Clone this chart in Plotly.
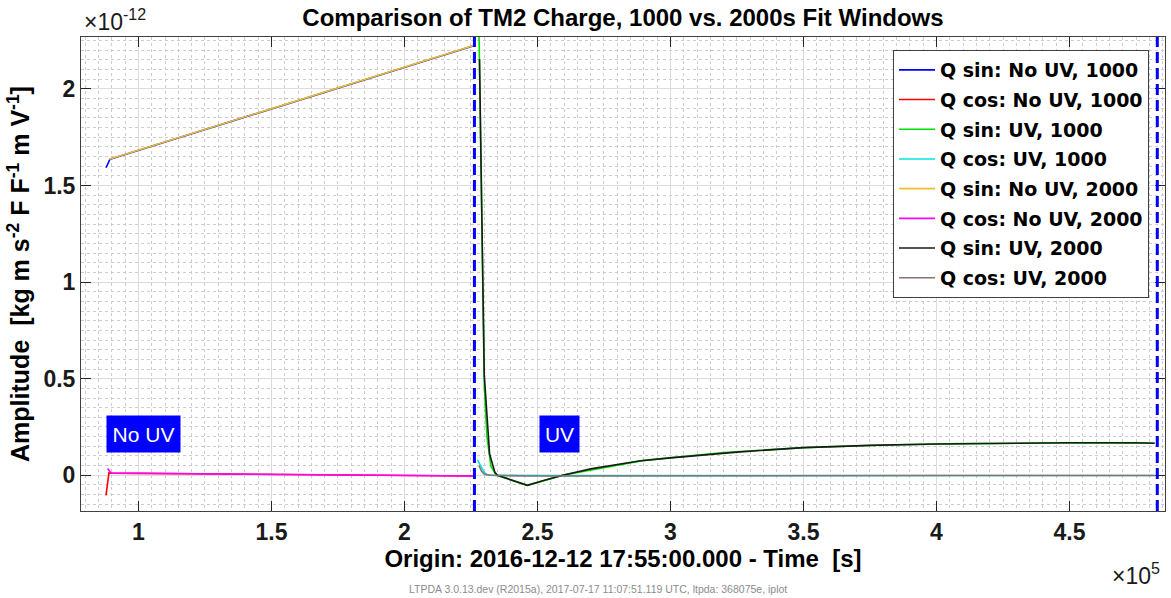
import plotly.graph_objects as go

# x in units of 1e5 s, y in units of 1e-12
x_sin_nouv_1000 = [0.878, 0.893, 1.2, 1.6, 2.0, 2.263]
y_sin_nouv_1000 = [1.592, 1.636, 1.768, 1.940, 2.112, 2.225]

x_cos_nouv_1000 = [0.878, 0.889, 0.90, 1.3, 1.7, 2.1, 2.263]
y_cos_nouv_1000 = [-0.104, 0.012, 0.011, 0.007, 0.003, -0.002, -0.004]

x_sin_uv_1000 = [2.278, 2.29, 2.30, 2.31, 2.325, 2.345, 2.40, 2.462, 2.6, 2.9, 3.2, 3.5, 3.8, 4.1, 4.4, 4.7, 4.82]
y_sin_uv_1000 = [2.5, 1.4, 0.46, 0.2, 0.047, 0.0, -0.025, -0.052, 0.002, 0.077, 0.118, 0.143, 0.157, 0.164, 0.167, 0.168, 0.166]

x_cos_uv_1000 = [2.275, 2.29, 2.30, 2.31, 2.33, 2.6, 3.0, 3.5, 4.0, 4.5, 4.82]
y_cos_uv_1000 = [0.078, 0.04, 0.015, 0.004, 0.0, -0.002, -0.002, -0.001, -0.001, -0.001, -0.001]

x_sin_nouv_2000 = [0.89, 1.0, 1.2, 1.4, 1.6, 1.8, 2.0, 2.2, 2.263]
y_sin_nouv_2000 = [1.636, 1.683, 1.769, 1.855, 1.941, 2.027, 2.113, 2.199, 2.226]

x_cos_nouv_2000 = [0.884, 0.897, 1.2, 1.6, 2.0, 2.263]
y_cos_nouv_2000 = [0.035, 0.011, 0.008, 0.004, -0.001, -0.004]

x_sin_uv_2000 = [2.282, 2.30, 2.32, 2.34, 2.35, 2.462, 2.52, 2.595, 2.7, 2.882, 3.0, 3.25, 3.5, 3.75, 4.0, 4.25, 4.5, 4.75, 4.82]
y_sin_uv_2000 = [2.155, 0.52, 0.11, 0.015, 0.0, -0.052, -0.028, 0.0, 0.033, 0.074, 0.09, 0.12, 0.143, 0.155, 0.162, 0.166, 0.168, 0.168, 0.166]

x_cos_uv_2000 = [2.28, 2.29, 2.30, 2.32, 2.46, 3.0, 3.5, 4.0, 4.5, 4.82]
y_cos_uv_2000 = [0.05, 0.02, 0.005, 0.0, -0.004, -0.002, -0.001, -0.001, -0.001, -0.001]

boundary_x = [2.263, 4.83]

x_ticks = [1, 1.5, 2, 2.5, 3, 3.5, 4, 4.5]
x_tick_text = ["1", "1.5", "2", "2.5", "3", "3.5", "4", "4.5"]
y_ticks = [0, 0.5, 1, 1.5, 2]
y_tick_text = ["0", "0.5", "1", "1.5", "2"]

series = [
    ("Q sin: No UV, 1000", x_sin_nouv_1000, y_sin_nouv_1000, "#0000FF"),
    ("Q cos: No UV, 1000", x_cos_nouv_1000, y_cos_nouv_1000, "#FF0000"),
    ("Q sin: UV, 1000", x_sin_uv_1000, y_sin_uv_1000, "#00E000"),
    ("Q cos: UV, 1000", x_cos_uv_1000, y_cos_uv_1000, "#00E5E5"),
    ("Q sin: No UV, 2000", x_sin_nouv_2000, y_sin_nouv_2000, "#EBC02A"),
    ("Q cos: No UV, 2000", x_cos_nouv_2000, y_cos_nouv_2000, "#FF00FF"),
    ("Q sin: UV, 2000", x_sin_uv_2000, y_sin_uv_2000, "#1a1a1a"),
    ("Q cos: UV, 2000", x_cos_uv_2000, y_cos_uv_2000, "#8c7070"),
]

FONT = "Liberation Sans"
L, R, T, B = 81, 6, 37, 87
W, H = 1171, 598
pw, ph = W - L - R, H - T - B

def px_x(px):
    return (px - L) / pw

def px_y(py_from_top):
    return (H - B - py_from_top) / ph

fig = go.Figure()
for i, (name, xs, ys, col) in enumerate(series):
    fig.add_trace(go.Scatter(x=xs, y=ys, mode="lines", name=name,
                             legendgroup=str(i),
                             line=dict(color=col, width=1.6)))

for bx in boundary_x:
    fig.add_shape(type="line", xref="x", yref="paper", x0=bx, x1=bx, y0=0, y1=1,
                  line=dict(color="#0000FF", width=3, dash="11px,5px"), layer="above")

axis_common = dict(
    showline=True, linecolor="#404040", linewidth=1, mirror="ticks",
    ticks="inside", ticklen=10, tickcolor="#262626", tickwidth=1,
    showgrid=True, gridcolor="#dcdcdc", gridwidth=1, zeroline=False,
    automargin=False,
    tickfont=dict(family=FONT, size=23, color="#1a1a1a", weight="bold"),
)

fig.update_xaxes(range=[0.784, 4.859], tickvals=x_ticks, ticktext=x_tick_text,
                 minor=dict(dtick=0.05, tick0=0, showgrid=True, gridcolor="#cccccc",
                            griddash="dot", ticks=""),
                 title=dict(text="Origin: 2016-12-12 17:55:00.000 - Time  [s]",
                            font=dict(family=FONT, size=24, color="#000000", weight="bold"),
                            standoff=4),
                 **axis_common)
fig.update_yaxes(range=[-0.185, 2.269], tickvals=y_ticks, ticktext=y_tick_text,
                 minor=dict(dtick=0.05, tick0=0, showgrid=True, gridcolor="#cccccc",
                            griddash="dot", ticks=""),
                 title=dict(text="Amplitude  [kg m s<sup>-2</sup> F F<sup>-1</sup> m V<sup>-1</sup>]",
                            font=dict(family=FONT, size=25, color="#000000", weight="bold"),
                            standoff=6),
                 **axis_common)

fig.update_layout(
    width=W, height=H,
    margin=dict(l=L, r=R, t=T, b=B, autoexpand=False),
    paper_bgcolor="white", plot_bgcolor="white",
    title=dict(text="Comparison of TM2 Charge, 1000 vs. 2000s Fit Windows",
               x=(L + W - R) / 2 / W, xanchor="center", y=1 - 18 / H, yanchor="middle",
               font=dict(family=FONT, size=24, color="#000000", weight="bold")),
    legend=dict(x=px_x(893), y=px_y(50), xanchor="left", yanchor="top",
                bgcolor="white", bordercolor="#404040", borderwidth=1,
                font=dict(family="DejaVu Sans", size=19, color="#000000", weight="bold"),
                tracegroupgap=2, itemwidth=36),
    showlegend=True,
    annotations=[
        dict(text="No UV", x=0.878, y=0.2155, xref="x", yref="y", xanchor="left", yanchor="middle",
             showarrow=False, bgcolor="#0000FF", width=73, height=36, borderpad=0,
             font=dict(family=FONT, size=21, color="white")),
        dict(text="UV", x=2.5045, y=0.2155, xref="x", yref="y", xanchor="left", yanchor="middle",
             showarrow=False, bgcolor="#0000FF", width=39, height=36, borderpad=0,
             font=dict(family=FONT, size=21, color="white")),
        dict(text="×10<sup>-12</sup>", x=px_x(82), y=px_y(20), xref="paper", yref="paper",
             showarrow=False, xanchor="left", yanchor="middle",
             font=dict(family=FONT, size=23, color="#1a1a1a")),
        dict(text="×10<sup>5</sup>", x=px_x(1162), y=px_y(574), xref="paper", yref="paper",
             showarrow=False, xanchor="right", yanchor="middle",
             font=dict(family=FONT, size=23, color="#1a1a1a")),
        dict(text="LTPDA 3.0.13.dev (R2015a), 2017-07-17 11:07:51.119 UTC, ltpda: 368075e, iplot",
             x=px_x(598), y=px_y(589), xref="paper", yref="paper", showarrow=False,
             xanchor="center", yanchor="middle",
             font=dict(family=FONT, size=10.5, color="#8c8c8c")),
    ],
)

fig.write_html("out.html", config={"displayModeBar": False},
               post_script="document.body.style.margin='0px';document.body.style.overflow='hidden';")
